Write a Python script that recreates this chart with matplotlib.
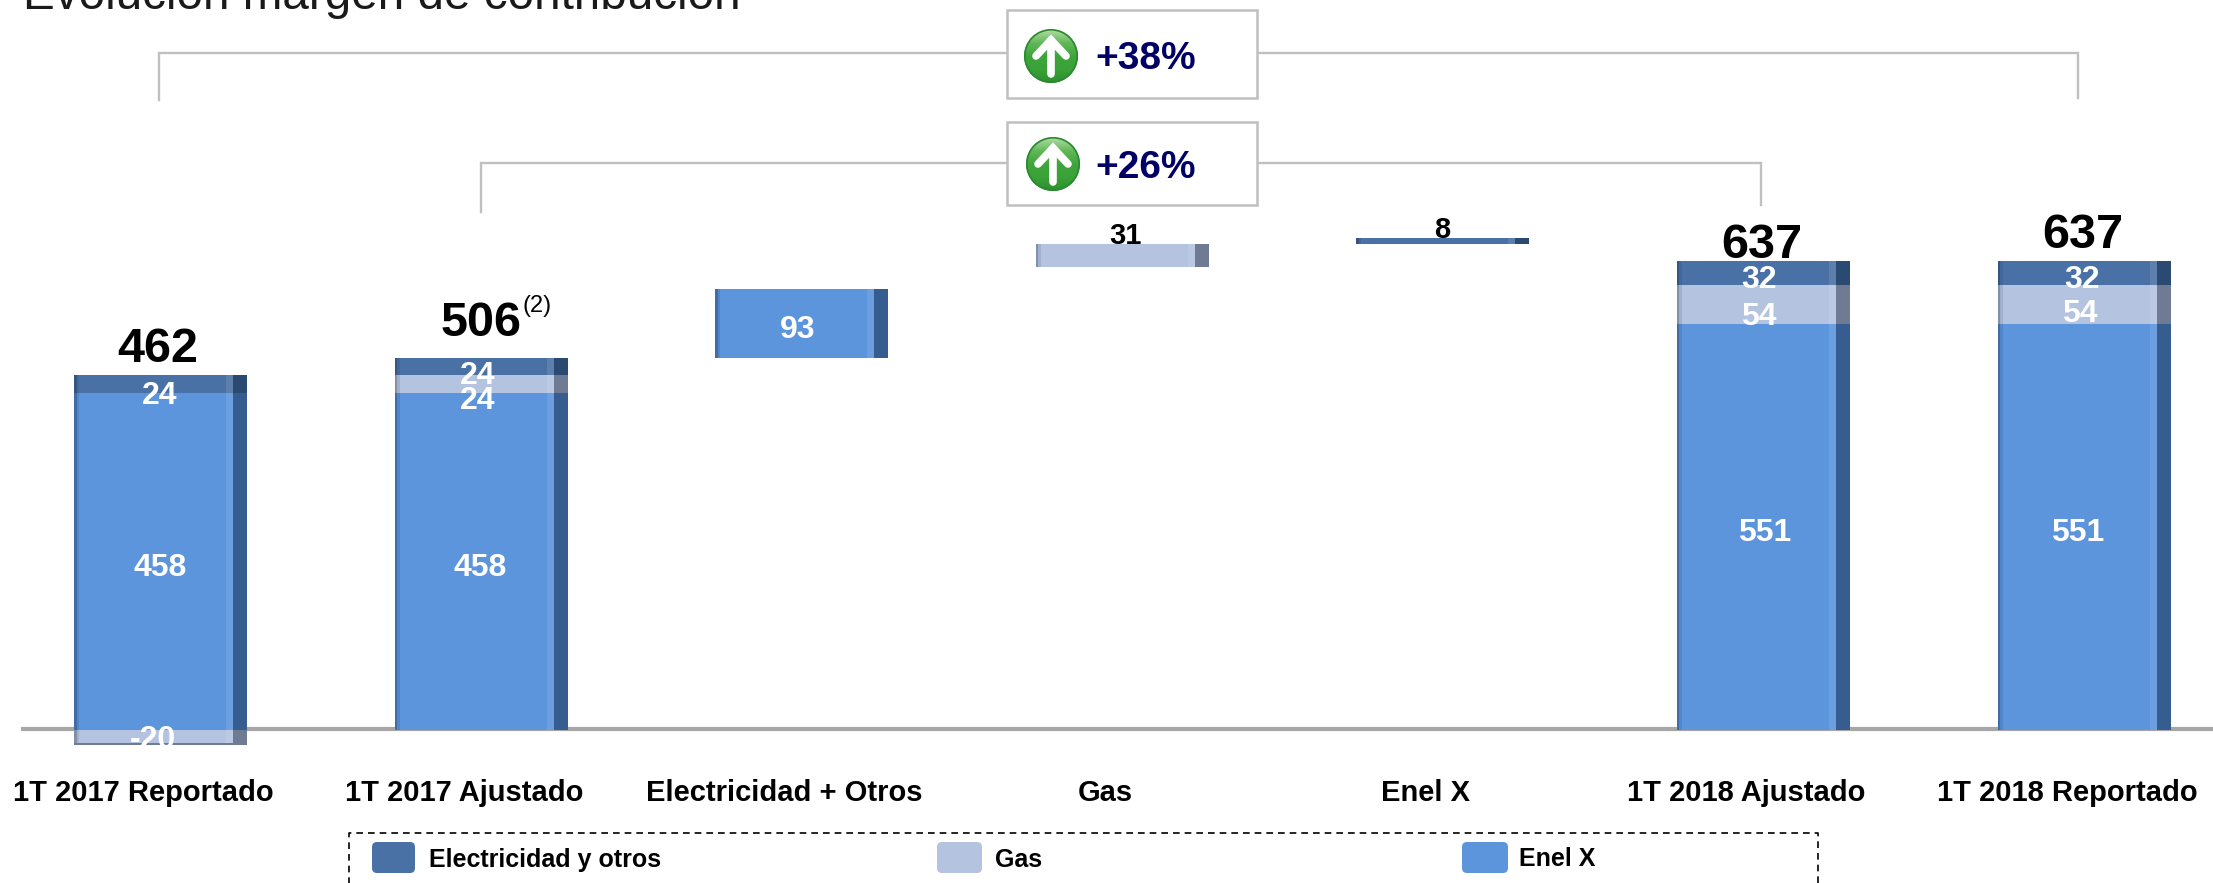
import matplotlib
matplotlib.use('Agg')
import matplotlib.pyplot as plt
import numpy as np
from matplotlib.patches import Circle, FancyBboxPatch, Rectangle

plt.rcParams['font.family'] = ['Liberation Sans', 'DejaVu Sans']

W, H = 2213, 883

categories = ['1T 2017 Reportado', '1T 2017 Ajustado', 'Electricidad + Otros', 'Gas',
              'Enel X', '1T 2018 Ajustado', '1T 2018 Reportado']
# stacked columns: 0 means the segment is not there
enel = [458, 458, 0, 0, 0, 551, 551]
gas = [-20, 24, 0, 0, 0, 54, 54]
elec = [24, 24, 0, 0, 0, 32, 32]
totals = [462, 506, None, None, None, 637, 637]
# floating steps
step_values = [93, 31, 8]
step_bases = [506, 629, 660]
step_pos = [2, 3, 4]
growth = ['+38%', '+26%']
legend_labels = ['Electricidad y otros', 'Gas', 'Enel X']

C_ELEC, C_ELEC_D = '#4a71a5', '#2b4a72'
C_GAS, C_GAS_D = '#b4c3e0', '#6f7b94'
C_ENEL, C_ENEL_D = '#5c95dc', '#365d8f'
C_GREY = '#c0c0c0'
NAVY = '#000066'

# y=0 sits at pixel 730, 0.736 px per unit; one category is 320.6 px
PX_Y = 0.736
PX_X = 320.6
AX_BOTTOM = 752

fig = plt.figure(figsize=(W / 100, H / 100), dpi=100, facecolor='white')
ax = fig.add_axes([0, 1 - AX_BOTTOM / H, 1, AX_BOTTOM / H])
ax.set_xlim(-160.5 / PX_X, (W - 160.5) / PX_X)
ax.set_ylim(-(AX_BOTTOM - 730) / PX_Y, 730 / PX_Y)
for s in ax.spines.values():
    s.set_visible(False)
ax.set_yticks([])
ax.patch.set_alpha(0)

BAR_W = 173 / PX_X
BAND = 14 / PX_X
GLOW = 7 / PX_X
EDGE = 2.5 / PX_X


def draw_bar(x, bottom, height, color, dark):
    left = x - BAR_W / 2
    ax.bar(left, height, BAR_W, bottom=bottom, align='edge', color=color, zorder=3)
    # soft shading on the left edge, lighter strip next to the dark side
    ax.bar(left, height, EDGE, bottom=bottom, align='edge', color=dark, alpha=0.7, zorder=4)
    ax.bar(left + EDGE, height, EDGE, bottom=bottom, align='edge', color=dark, alpha=0.25, zorder=4)
    ax.bar(left + BAR_W - BAND - GLOW, height, GLOW, bottom=bottom, align='edge', color='white',
           alpha=0.1, zorder=4)
    ax.bar(left + BAR_W - BAND, height, BAND, bottom=bottom, align='edge', color=dark, zorder=4)


ax.plot([21 / PX_X - 160.5 / PX_X, ax.get_xlim()[1]], [1.3, 1.3], color='#a6a6a6', lw=3, zorder=2,
        solid_capstyle='butt')

for i in range(len(categories)):
    if enel[i] == 0:
        continue
    draw_bar(i, 0, enel[i], C_ENEL, C_ENEL_D)
    if gas[i] < 0:
        draw_bar(i, gas[i], -gas[i], C_GAS, C_GAS_D)
        # thin shadow along the underside
        ax.bar(i, 2, BAR_W, bottom=gas[i], color=C_GAS_D, zorder=5)
        draw_bar(i, enel[i], elec[i], C_ELEC, C_ELEC_D)
    else:
        draw_bar(i, enel[i], gas[i], C_GAS, C_GAS_D)
        draw_bar(i, enel[i] + gas[i], elec[i], C_ELEC, C_ELEC_D)

draw_bar(step_pos[0], step_bases[0], step_values[0], C_ENEL, C_ENEL_D)
draw_bar(step_pos[1], step_bases[1], step_values[1], C_GAS, C_GAS_D)
draw_bar(step_pos[2], step_bases[2], step_values[2], C_ELEC, C_ELEC_D)

ax.set_xticks(np.arange(len(categories)) - 17 / PX_X)
ax.set_xticklabels(categories, fontsize=21, fontweight='bold', color='black')
ax.tick_params(axis='x', length=0, pad=19.5)

# layout layer in pixel coordinates for brackets, boxes and legend
ov = fig.add_axes([0, 0, 1, 1], zorder=5)
ov.set_xlim(0, W)
ov.set_ylim(H, 0)
ov.axis('off')
ov.patch.set_alpha(0)


def bracket(x0, x1, y, y_end0, y_end1):
    ov.plot([x0, x0, x1, x1], [y_end0, y, y, y_end1], color=C_GREY, lw=1.7, zorder=1,
            solid_joinstyle='miter')


bracket(159, 2078, 53, 100, 98)
bracket(481, 1761, 163, 212, 205)

gradient = np.linspace(0, 1, 64)[:, None]
green = matplotlib.colors.LinearSegmentedColormap.from_list(
    'g', ['#b4dca8', '#63b858', '#3ea53b', '#3aa238', '#2c8f30'])


def arrow_icon(cx, cy, r=27):
    im = ov.imshow(gradient, extent=(cx - r, cx + r, cy + r, cy - r), cmap=green, aspect='auto', zorder=3)
    im.set_clip_path(Circle((cx, cy), r, transform=ov.transData))
    ov.add_patch(Circle((cx, cy), r - 0.8, fc='none', ec='#2b8a30', lw=1.2, zorder=3))
    ov.plot([cx, cx], [cy - 16, cy + 18], color='white', lw=5.5, solid_capstyle='round', zorder=4)
    ov.plot([cx - 15, cx, cx + 15], [cy, cy - 16, cy], color='white', lw=5.5, solid_capstyle='round',
            solid_joinstyle='miter', zorder=4)


for (y0, y1, cx, cy, label) in [(10, 98, 1051, 56, growth[0]), (122, 205, 1053, 164, growth[1])]:
    ov.add_patch(Rectangle((1007, y0), 250, y1 - y0, fc='white', ec=C_GREY, lw=1.8, zorder=2))
    arrow_icon(cx, cy)
    ov.text(1095, y0 + 49 if y0 == 10 else y0 + 46, label, fontsize=28, fontweight='bold', color=NAVY,
            va='center', ha='left', zorder=4)
ov.set_xlim(0, W)
ov.set_ylim(H, 0)

ov.text(23, 9, 'Evolución margen de contribución', fontsize=34.3, color='#1a1a1a', va='baseline', ha='left')


def val(x, y, s, size=23, color='white'):
    # digits sit a little above the centre of the text box
    ov.text(x, y + 4, s, fontsize=size, fontweight='bold', color=color, ha='center', va='center', zorder=6)


val(158, 345, str(totals[0]), 35, 'black')
val(481, 320, str(totals[1]), 35, 'black')
val(1762, 242, str(totals[5]), 35, 'black')
val(2083, 232, str(totals[6]), 35, 'black')
ov.text(523, 306, '(2)', fontsize=17, color='black', ha='left', va='center', zorder=6)

val(160, 392, str(elec[0]))
val(160, 564, str(enel[0]))
val(153, 736, str(gas[0]))
val(478, 372, str(elec[1]))
val(478, 397, str(gas[1]))
val(480, 564, str(enel[1]))
val(798, 326, str(step_values[0]))
val(1125, 232, str(step_values[1]), 21, 'black')
val(1442, 226, str(step_values[2]), 21, 'black')
val(1759, 276, str(elec[5]))
val(1759, 313, str(gas[5]))
val(1765, 529, str(enel[5]))
val(2082, 276, str(elec[6]))
val(2080, 310, str(gas[6]))
val(2078, 529, str(enel[6]))

# legend box runs off the bottom of the picture
ov.plot([349, 349, 1818, 1818], [H + 5, 833, 833, H + 5], color='black', lw=1.2, ls=(0, (4, 3)))
for x0, x1, ytxt, tx, col, lab in [(372, 415, 860, 429, C_ELEC, legend_labels[0]),
                                   (937, 982, 860, 995, C_GAS, legend_labels[1]),
                                   (1462, 1508, 859, 1519, C_ENEL, legend_labels[2])]:
    ov.add_patch(FancyBboxPatch((x0 + 4, 846), x1 - x0 - 8, 23, boxstyle='round,pad=4,rounding_size=5',
                                fc=col, ec='none'))
    ov.text(tx, ytxt, lab, fontsize=18, fontweight='bold', color='black', va='center', ha='left')

fig.savefig('out.png', dpi=100)
